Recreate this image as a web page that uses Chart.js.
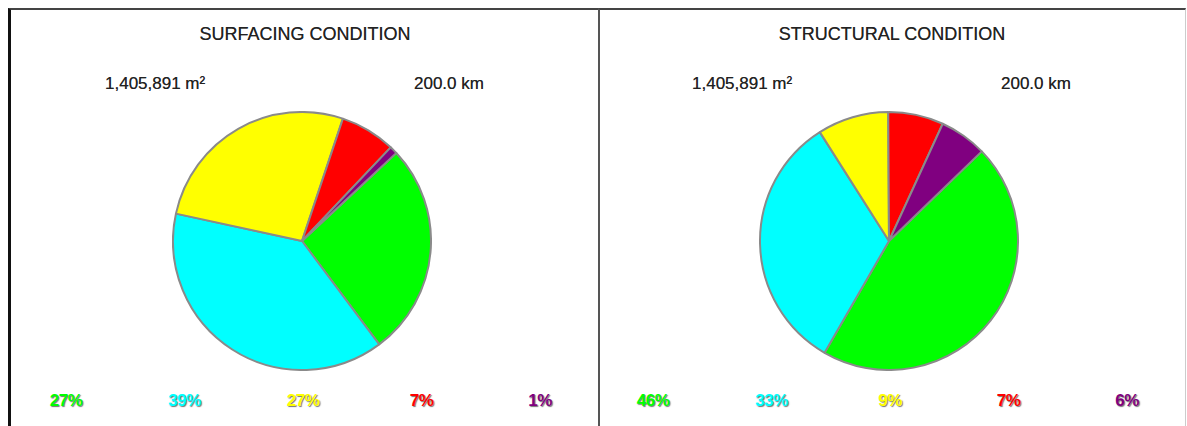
<!DOCTYPE html>
<html>
<head>
<meta charset="utf-8">
<script src="https://cdn.jsdelivr.net/npm/chart.js@4.4.1/dist/chart.umd.min.js"></script>
<style>
  body { margin:0; background:#fff; width:1187px; height:426px; overflow:hidden; position:relative;
         font-family:"Liberation Sans", Arial, sans-serif; }
  .frame { position:absolute; top:8px; height:430px; border-top:2px solid #444; box-sizing:border-box; }
  #f1 { left:8px; width:591px; border-left:3px solid #111; }
  #f2 { left:598px; width:588px; border-left:2px solid #555; border-right:1px solid #ccc; }
  .txt { position:absolute; color:#222; white-space:nowrap; text-shadow:0 0 0.5px #666; }
  .title { font-size:18px; top:24px; transform:translateX(-50%); }
  .info { font-size:17px; top:74px; }
  .pct { position:absolute; top:391px; font-size:17px; font-weight:bold; transform:translateX(-50%);
         text-shadow:1px 1px 1px rgba(60,60,60,0.7); letter-spacing:-0.5px; }
  canvas { position:absolute; }
</style>
</head>
<body>
<div class="frame" id="f1"></div>
<div class="frame" id="f2"></div>
<div id="texts"></div>
<div style="position:absolute;left:172px;top:111px;width:260px;height:260px"><canvas id="pie1"></canvas></div>
<div style="position:absolute;left:759px;top:111px;width:260px;height:260px"><canvas id="pie2"></canvas></div>
<script>
var categories = ["Good", "Fair", "Poor", "Bad", "Very Bad"];
var colors = ['#00ff00', '#00ffff', '#ffff00', '#ff0000', '#800080'];
var titles = ["SURFACING CONDITION", "STRUCTURAL CONDITION"];
var areaText = "1,405,891 m²";
var lengthText = "200.0 km";
var surfacing = [27, 39, 27, 7, 1];
var structural = [46, 33, 9, 7, 6];
var surfacingRotation = 47;
var structuralRotation = 46;

var texts = document.getElementById('texts');
function addText(cls, html, left, color) {
    var d = document.createElement('div');
    d.className = cls;
    d.innerHTML = html;
    d.style.left = left + 'px';
    if (color) d.style.color = color;
    texts.appendChild(d);
}

// title, totals and the coloured percentage row of one panel
function panel(offset, title, values) {
    addText('txt title', title, offset + 305);
    addText('txt info', areaText, offset + 105);
    addText('txt info', lengthText, offset + 414);
    values.forEach(function(v, i) {
        addText('pct', v + '%', offset + 66 + i * 118.5, colors[i]);
    });
}
panel(0, titles[0], surfacing);
panel(587, titles[1], structural);

function makePie(id, values, rotation) {
    return new Chart(document.getElementById(id), {
        type: 'pie',
        data: {
            labels: categories,
            datasets: [{
                data: values,
                backgroundColor: colors,
                borderColor: '#8a8a8a',
                borderWidth: 2,
                hoverOffset: 0
            }]
        },
        options: {
            responsive: true,
            maintainAspectRatio: false,
            animation: false,
            rotation: rotation,
            layout: { padding: 0 },
            plugins: { legend: { display: false }, tooltip: { enabled: false } }
        }
    });
}
makePie('pie1', surfacing, surfacingRotation);
makePie('pie2', structural, structuralRotation);
</script>
</body>
</html>
